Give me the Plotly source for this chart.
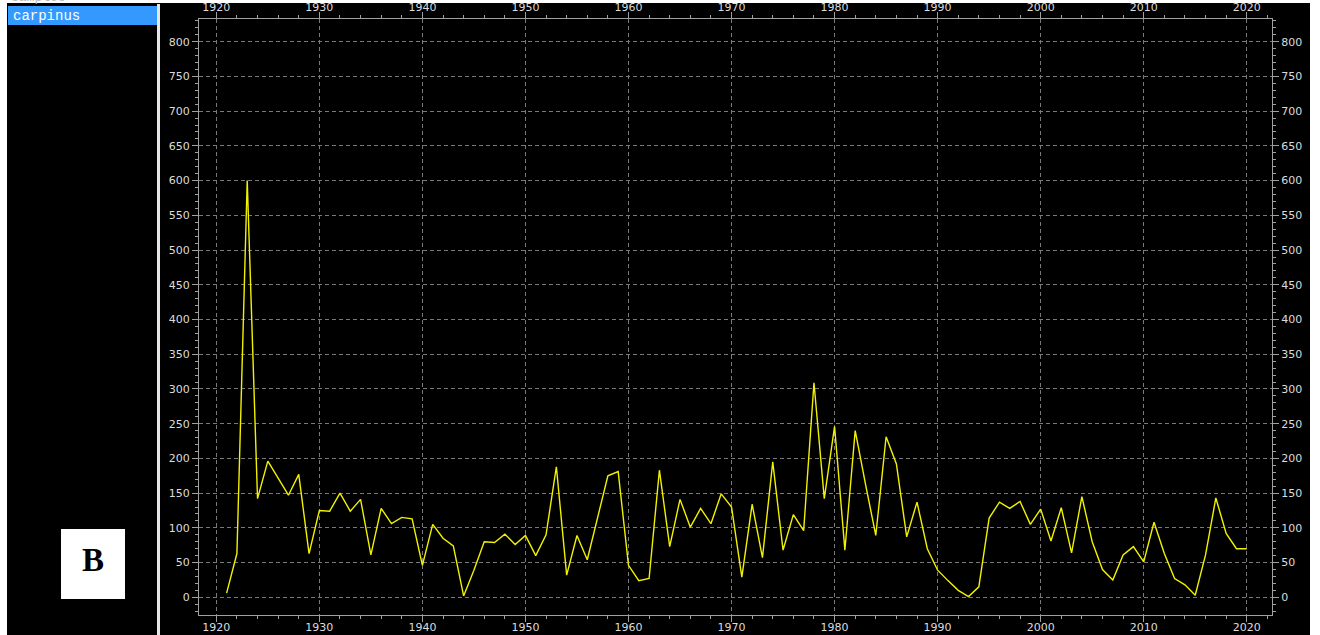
import plotly.graph_objects as go

# Annual series for the selected sample
list_header = "samples"
sample_name = "carpinus"
panel_label = "B"

years = list(range(1921, 2021))
values = [
    6, 63, 600, 142, 196, 171, 147, 177, 63, 125,        # 1921-1930
    124, 150, 124, 141, 61, 128, 106, 115, 113, 46,      # 1931-1940
    105, 85, 74, 2, 39, 80, 79, 91, 76, 89,              # 1941-1950
    60, 90, 188, 32, 89, 54, 114, 175, 181, 46,          # 1951-1960
    24, 27, 183, 73, 141, 101, 128, 106, 149, 130,       # 1961-1970
    29, 134, 57, 195, 68, 119, 96, 309, 142, 246,        # 1971-1980
    68, 240, 163, 89, 231, 192, 87, 137, 70, 39,         # 1981-1990
    24, 10, 1, 15, 114, 137, 128, 138, 105, 127,         # 1991-2000
    81, 129, 64, 145, 80, 40, 25, 61, 73, 51,            # 2001-2010
    108, 63, 27, 18, 3, 61, 143, 92, 70, 70,             # 2011-2020
]

x_range = [1918.32, 2022.45]
y_range = [-25.5, 832.7]

W, H = 1320, 635
ML, MR, MT, MB = 199, 48, 19, 20
pw = W - ML - MR
ph = H - MT - MB


def px_x(px):
    return (px - ML) / pw


def px_y(py):
    return (H - MB - py) / ph


axis_col = "#a0a0a0"
grid_col = "#7a7a7a"
tick_font = dict(family="DejaVu Sans", size=11, color="#dcdcdc")

fig = go.Figure()
fig.add_trace(go.Scatter(
    x=years, y=values, mode="lines",
    line=dict(color="#f2f200", width=1.4),
    showlegend=False, hoverinfo="x+y",
))
# companion trace so the top and right axes are drawn
fig.add_trace(go.Scatter(
    x=years, y=values, mode="lines", xaxis="x2", yaxis="y2",
    line=dict(color="rgba(0,0,0,0)", width=0),
    showlegend=False, hoverinfo="skip",
))

common_x = dict(
    range=x_range, dtick=10, tick0=1920, ticks="outside", ticklen=6,
    tickcolor=axis_col, showline=True, linecolor=axis_col, linewidth=1,
    tickfont=tick_font, zeroline=False, automargin=False,
    minor=dict(dtick=2, tick0=1920, ticks="outside", ticklen=3,
               tickcolor=axis_col, showgrid=False),
)
common_y = dict(
    range=y_range, dtick=50, tick0=0, ticks="outside", ticklen=6,
    tickcolor=axis_col, showline=True, linecolor=axis_col, linewidth=1,
    tickfont=tick_font, zeroline=False, automargin=False,
    minor=dict(dtick=10, tick0=0, ticks="outside", ticklen=3,
               tickcolor=axis_col, showgrid=False),
)

fig.update_layout(
    width=W, height=H,
    margin=dict(l=ML, r=MR, t=MT, b=MB, pad=0, autoexpand=False),
    paper_bgcolor="#000000", plot_bgcolor="#000000",
    xaxis=dict(**common_x, side="bottom", showgrid=True, gridcolor=grid_col,
               griddash="4px,3px", gridwidth=1, ticklabelstandoff=-4),
    yaxis=dict(**common_y, side="left", showgrid=True, gridcolor=grid_col,
               griddash="4px,3px", gridwidth=1),
    xaxis2=dict(**common_x, side="top", overlaying="x", anchor="y",
                showgrid=False, ticklabelstandoff=-3),
    yaxis2=dict(**common_y, side="right", overlaying="y", anchor="x", showgrid=False),
    shapes=[
        # selection bar in the side list
        dict(type="rect", xref="paper", yref="paper", layer="above",
             x0=px_x(8), x1=px_x(157), y0=px_y(25), y1=px_y(6),
             fillcolor="#3399ff", line=dict(width=0)),
        # divider between list and chart
        dict(type="rect", xref="paper", yref="paper", layer="above",
             x0=px_x(157), x1=px_x(160), y0=px_y(H), y1=px_y(4),
             fillcolor="#e6e6e6", line=dict(width=0)),
        # window edges
        dict(type="rect", xref="paper", yref="paper", layer="above",
             x0=px_x(0), x1=px_x(W), y0=px_y(3), y1=px_y(0),
             fillcolor="#ffffff", line=dict(width=0)),
        dict(type="rect", xref="paper", yref="paper", layer="above",
             x0=px_x(0), x1=px_x(7), y0=px_y(H), y1=px_y(0),
             fillcolor="#ffffff", line=dict(width=0)),
        dict(type="rect", xref="paper", yref="paper", layer="above",
             x0=px_x(1310), x1=px_x(W), y0=px_y(H), y1=px_y(0),
             fillcolor="#ffffff", line=dict(width=0)),
        # panel label box
        dict(type="rect", xref="paper", yref="paper", layer="above",
             x0=px_x(61), x1=px_x(125), y0=px_y(599), y1=px_y(529),
             fillcolor="#ffffff", line=dict(width=0)),
    ],
    annotations=[
        dict(text=list_header, xref="paper", yref="paper",
             x=px_x(9), y=px_y(7), xanchor="left", yanchor="bottom",
             showarrow=False,
             font=dict(family="Liberation Mono", size=13, color="#b8b8b8")),
        dict(text=sample_name, xref="paper", yref="paper",
             x=px_x(11), y=px_y(16), xanchor="left", yanchor="middle",
             showarrow=False,
             font=dict(family="Liberation Mono", size=14, color="#ffffff")),
        dict(text=panel_label, xref="paper", yref="paper",
             x=px_x(93), y=px_y(560), xanchor="center", yanchor="middle",
             showarrow=False,
             font=dict(family="Liberation Serif", size=33, color="#000000",
                       weight="bold")),
    ],
)

fig.write_html("out.html")
